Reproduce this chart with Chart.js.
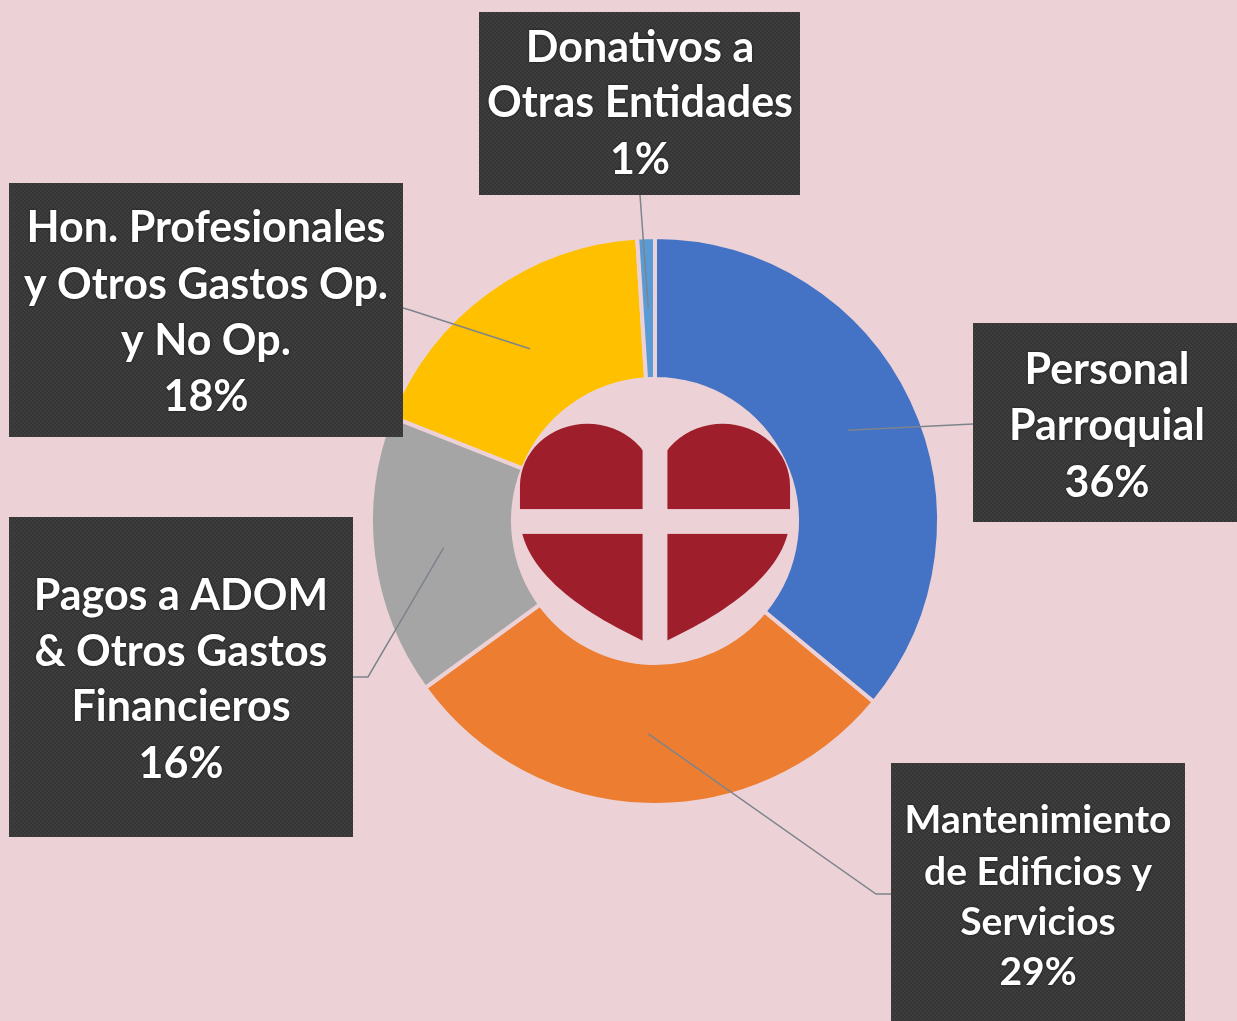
<!DOCTYPE html>
<html lang="es">
<head>
  <meta charset="UTF-8">
  <title>Distribución de Gastos</title>
  <script src="https://cdn.jsdelivr.net/npm/chart.js"></script>
  <style>
    html, body {
      margin: 0;
      padding: 0;
      background-color: #ecd2d6;
      overflow: hidden;
    }
    #wrap {
      width: 1237px;
      height: 1021px;
    }
  </style>
</head>
<body>
  <div id="wrap"><canvas id="gastosChart" width="1237" height="1021"></canvas></div>

  <script>
    // Datos
    const categorias = [
      ['Personal', 'Parroquial'],
      ['Mantenimiento', 'de Edificios y', 'Servicios'],
      ['Pagos a ADOM', '& Otros Gastos', 'Financieros'],
      ['Hon. Profesionales', 'y Otros Gastos Op.', 'y No Op.'],
      ['Donativos a', 'Otras Entidades']
    ];
    const porcentajes = [36, 29, 16, 18, 1];
    const colores = ['#4472c4', '#ed7d31', '#a5a5a5', '#ffc000', '#5b9bd5'];

    const fondo = '#ecd2d6';

    // Cajas de etiquetas: rect, tamaño de letra, centros de línea, y puntos del conector
    const cajas = [
      { x: 973, y: 323, w: 264, h: 199, size: 43, lines: [370, 426, 483], cx: 1107, guia: [[973, 424]] },
      { x: 891, y: 763, w: 294, h: 258, size: 39, lines: [820, 872, 922, 972], cx: 1038, guia: [[876, 894], [891, 894]] },
      { x: 9, y: 517, w: 344, h: 320, size: 43, lines: [596, 652, 707, 764], cx: 181, guia: [[368, 677], [353, 677]] },
      { x: 9, y: 183, w: 394, h: 254, size: 43, lines: [228, 285, 341, 397], cx: 206, guia: [[410, 310], [403, 308]] },
      { x: 479, y: 12, w: 321, h: 183, size: 43, lines: [48, 103, 160], cx: 640, guia: [[640, 195]] }
    ];

    // Textura punteada de las cajas
    function texturaCaja(ctx) {
      const p = document.createElement('canvas');
      p.width = 4; p.height = 4;
      const g = p.getContext('2d');
      g.fillStyle = '#3e3e3e';
      g.fillRect(0, 0, 4, 4);
      g.fillStyle = '#353535';
      g.fillRect(0, 0, 2, 2);
      g.fillRect(2, 2, 2, 2);
      return ctx.createPattern(p, 'repeat');
    }

    // Corazón con cruz en el centro
    const corazonPlugin = {
      id: 'corazon',
      afterDatasetsDraw(chart) {
        const arc = chart.getDatasetMeta(0).data[0];
        const ctx = chart.ctx;
        const cx = arc.x, cy = arc.y;
        const k = arc.innerRadius / 143;
        ctx.save();
        ctx.translate(cx, cy);
        ctx.scale(k, k);
        ctx.fillStyle = '#9e1f2b';
        ctx.beginPath();
        ctx.moveTo(0, -35);
        ctx.ellipse(-68, -35, 68, 63, 0, 0, Math.PI, true);
        ctx.lineTo(-136, -8);
        ctx.bezierCurveTo(-138, 50, -70, 95, 0, 126);
        ctx.bezierCurveTo(70, 95, 138, 50, 136, -8);
        ctx.lineTo(136, -35);
        ctx.ellipse(68, -35, 68, 63, 0, 0, Math.PI, true);
        ctx.closePath();
        ctx.fill();
        // cruz
        ctx.fillStyle = fondo;
        ctx.fillRect(-12.5, -110, 25, 245);
        ctx.fillRect(-140, -12, 280, 25);
        ctx.restore();
      }
    };

    // Cajas oscuras con texto y líneas guía
    const etiquetasPlugin = {
      id: 'etiquetas',
      afterDraw(chart) {
        const ctx = chart.ctx;
        const meta = chart.getDatasetMeta(0);
        const total = porcentajes.reduce((a, b) => a + b, 0);
        const patron = texturaCaja(ctx);
        ctx.save();
        meta.data.forEach((arc, i) => {
          const c = cajas[i];
          const ancla = arc.tooltipPosition();
          // línea guía
          ctx.strokeStyle = '#7d848c';
          ctx.lineWidth = 1.5;
          ctx.beginPath();
          ctx.moveTo(ancla.x, ancla.y);
          c.guia.forEach(p => ctx.lineTo(p[0], p[1]));
          ctx.stroke();
        });
        meta.data.forEach((arc, i) => {
          const c = cajas[i];
          ctx.fillStyle = patron;
          ctx.fillRect(c.x, c.y, c.w, c.h);
          ctx.fillStyle = '#ffffff';
          ctx.font = 'bold ' + c.size + 'px Lato, "Open Sans", sans-serif';
          ctx.textAlign = 'center';
          ctx.textBaseline = 'middle';
          ctx.shadowColor = 'rgba(0,0,0,0.6)';
          ctx.shadowBlur = 3;
          const textos = categorias[i].concat([Math.round(porcentajes[i] / total * 100) + '%']);
          textos.forEach((t, j) => ctx.fillText(t, c.cx, c.lines[j]));
          ctx.shadowBlur = 0;
        });
        ctx.restore();
      }
    };

    const ctx = document.getElementById('gastosChart').getContext('2d');
    new Chart(ctx, {
      type: 'doughnut',
      data: {
        labels: categorias.map(l => l.join(' ')),
        datasets: [{
          data: porcentajes,
          backgroundColor: colores,
          borderColor: fondo,
          borderWidth: 4
        }]
      },
      options: {
        responsive: false,
        animation: false,
        cutout: '50%',
        layout: {
          padding: { left: 369, right: 296, top: 235, bottom: 214 }
        },
        plugins: {
          legend: { display: false },
          tooltip: { enabled: false }
        }
      },
      plugins: [corazonPlugin, etiquetasPlugin]
    });
  </script>
</body>
</html>
